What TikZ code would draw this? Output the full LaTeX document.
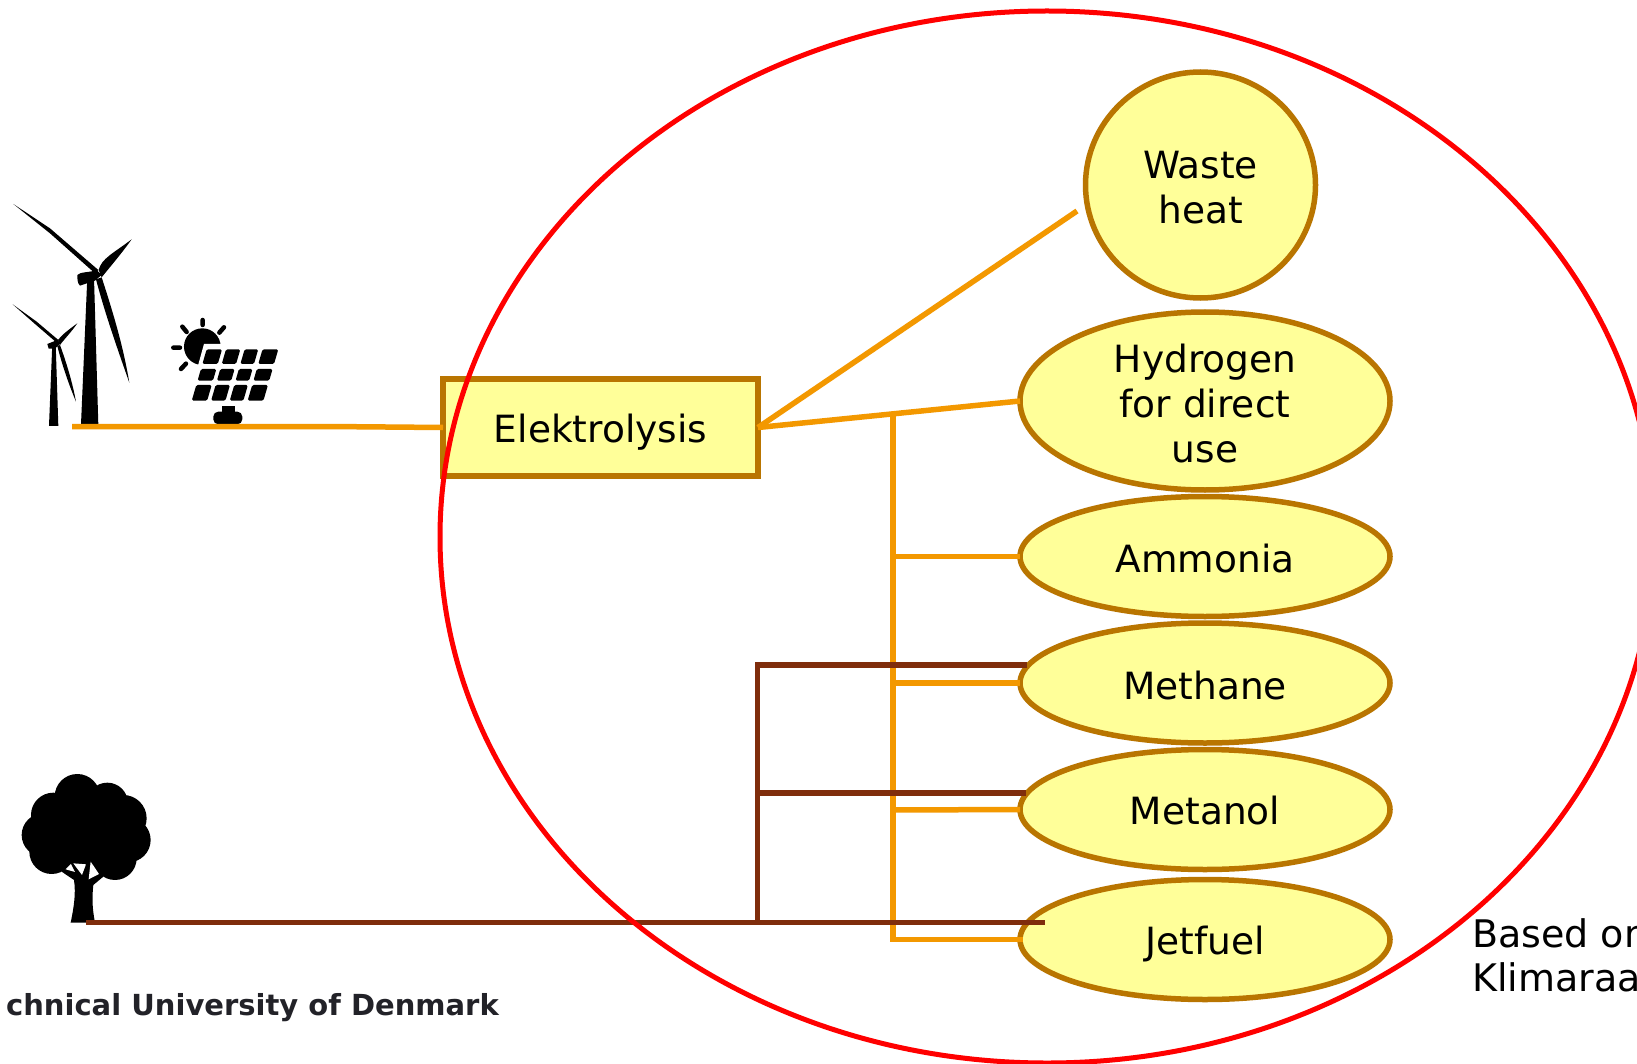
\documentclass[tikz,border=0pt]{standalone}
\usepackage{fontspec}
\setmainfont{DejaVu Sans}
\usetikzlibrary{shapes.geometric}
\definecolor{ora}{HTML}{F39800}
\definecolor{bord}{HTML}{B97500}
\definecolor{fillY}{HTML}{FFFF99}
\definecolor{brn}{HTML}{7F2D0C}
\definecolor{dtu}{HTML}{222228}
\newcommand{\dnshift}[2]{\raisebox{-#1pt}[\height][\depth]{#2}}
\tikzset{
  prod/.style={ellipse,draw=bord,fill=fillY,line width=5.5pt,inner sep=0pt,outer sep=0pt,minimum width=370pt,minimum height=120pt,align=center,font=\fontsize{37.5}{45}\selectfont},
  procbox/.style={rectangle,draw=bord,fill=fillY,line width=5.5pt,inner sep=0pt,outer sep=0pt,minimum width=315pt,minimum height=97pt,font=\fontsize{37.5}{45}\selectfont},
  oline/.style={draw=ora,line width=5.5pt},
  bline/.style={draw=brn,line width=5.5pt},
  icon/.style={fill=black,draw=none},
}
\begin{document}
\begin{tikzpicture}[x=1pt,y=-1pt]
\useasboundingbox (0,0) rectangle (1637,1064);
\clip (0,0) rectangle (1637,1064);
\fill[white] (0,0) rectangle (1637,1064);
% turbines
\begin{scope}[shift={(0,190)},x=0.3333pt,y=-0.3333pt]
 \fill[icon] (243,704) -- (262,262) -- (282,262) -- (295,704) -- cycle;
 \fill[icon] (232,255) .. controls (240,245) and (270,248) .. (290,240) -- (305,255) -- (285,272) -- (240,287) .. controls (232,280) and (232,265) .. (232,255) -- cycle;
 \fill[icon] (40,42) -- (150,115) -- (295,240) -- (285,250) -- (150,130) -- cycle;
 \fill[icon] (296,240) .. controls (305,205) and (340,190) .. (395,148) .. controls (365,190) and (335,225) .. (305,262) -- cycle;
 \fill[icon] (288,268) -- (305,262) .. controls (340,370) and (370,470) .. (388,578) .. controls (350,470) and (315,370) .. (288,268) -- cycle;
 \fill[icon] (147,708) -- (157,460) -- (167,460) -- (175,708) -- cycle;
 \fill[icon] (142,462) -- (172,450) -- (182,460) -- (165,476) -- (146,476) -- cycle;
 \fill[icon] (38,343) -- (110,395) -- (175,450) -- (170,458) -- (105,402) -- cycle;
 \fill[icon] (174,450) .. controls (185,435) and (205,420) .. (232,400) .. controls (215,425) and (195,445) .. (180,465) -- cycle;
 \fill[icon] (172,468) -- (180,465) .. controls (200,520) and (218,580) .. (228,635) .. controls (205,580) and (185,520) .. (172,468) -- cycle;
 % solar
 \fill[icon] (607,470) circle[radius=55];
 \draw[line width=4.5pt,line cap=round] (608,390) -- (608,405) (672,412) -- (658,428) (547,410) -- (560,426) (520,473) -- (540,473) (543,537) -- (558,521);
 \fill[white] (612,462) -- (850,462) -- (800,650) -- (560,650) -- cycle;
 \foreach \a/\b in {0/0.215,0.27/0.47,0.53/0.72,0.78/1}{
  \foreach \c/\d in {478/522,537/572,585/632}{
   \fill[icon,rounded corners=1.5pt] ({620+\a*215-0.29*(\c-478)},\c) -- ({620+\b*215-0.29*(\c-478)},\c) -- ({620+\b*215-0.29*(\d-478)},\d) -- ({620+\a*215-0.29*(\d-478)},\d) -- cycle;
  }
 }
 \fill[icon] (665,647) rectangle (705,670);
 \fill[icon,rounded corners=5pt] (640,665) rectangle (727,703);
\end{scope}
% tree
\begin{scope}[shift={(0,760)},x=0.3333pt,y=-0.3333pt]
 \foreach \p/\q/\r in {232/110/68,322/130/62,370/175/70,385/240/67,345/295/65,155/275/67,130/225/65,160/165/67,250/210/100}{
  \fill[icon] (\p,\q) circle[radius=\r];
 }
 \fill[icon] (212,488) .. controls (222,440) and (228,400) .. (222,360) -- (185,335) -- (210,300) -- (290,300) -- (310,350) -- (280,375) .. controls (275,420) and (278,450) .. (285,488) -- cycle;
 \fill[white] (197,328) -- (213,312) -- (225,336) -- cycle;
 \fill[white] (220,310) -- (258,313) -- (246,345) -- cycle;
 \fill[white] (272,305) -- (297,342) -- (266,358) -- cycle;
\end{scope}
% nodes
\node[prod,minimum width=230pt,minimum height=226pt] (waste) at (1200.5,185) {\dnshift{2.5}{Waste}\\\dnshift{2.5}{heat}};
\node[prod,minimum height=178pt] (hydro) at (1205,401) {\dnshift{2.5}{Hydrogen}\\\dnshift{2.5}{for direct}\\\dnshift{2.5}{use}};
\node[prod] (amm) at (1205,556.5) {\dnshift{2.5}{Ammonia}};
\node[prod] (meth) at (1205,683) {\dnshift{2.5}{Methane}};
\node[prod] (metan) at (1205,809.5) {\dnshift{1.5}{Metanol}};
\node[prod] (jet) at (1205,939.5) {\dnshift{4}{Jetfuel}};
\node[procbox] (elek) at (600.5,427.5) {\dnshift{5}{Elektrolysis}};
% free ends
\coordinate (windend) at (72,426.5);
\coordinate (windbend) at (328,426.5);
\coordinate (treeend) at (86,922.5);
\coordinate (wasteend) at (1077,211);
\coordinate (brtop) at (757.5,665);
\coordinate (brmid) at (757.5,793);
\coordinate (brbot) at (757.5,922.5);
\coordinate (ortop) at (893,415.5);
% orange
\draw[oline] (windend) -- (windbend) -- (elek.west);
\draw[oline] (elek.east) -- (wasteend);
\draw[oline] (elek.east) -- (hydro.west);
\draw[oline,line cap=rect] (ortop) -- (893,939.5) -- (jet.west);
\draw[oline] (893,556.5) -- (amm.west);
\draw[oline] (893,683) -- (meth.west);
\draw[oline] (893,810) -- (metan.west);
% brown
\draw[bline,line cap=rect] (brbot) -- (brtop) -- (1024,665);
\draw[bline] (brmid) -- (1026,793);
\draw[bline] (treeend) -- (1045,922.5);
% labels
\node[anchor=west,inner sep=0pt,align=left,font=\fontsize{38}{44}\selectfont] (src) at (1472,955) {Based on\\Klimaraa};
\node[anchor=east,inner sep=0pt,text=dtu,font=\fontsize{29}{30}\selectfont\bfseries] (dtulabel) at (499,1008) {chnical University of Denmark};
% red
\node[ellipse,draw=red,line width=5pt,inner sep=0pt,minimum width=1214pt,minimum height=1052pt] (scopeell) at (1047,537) {};
\end{tikzpicture}
\end{document}
